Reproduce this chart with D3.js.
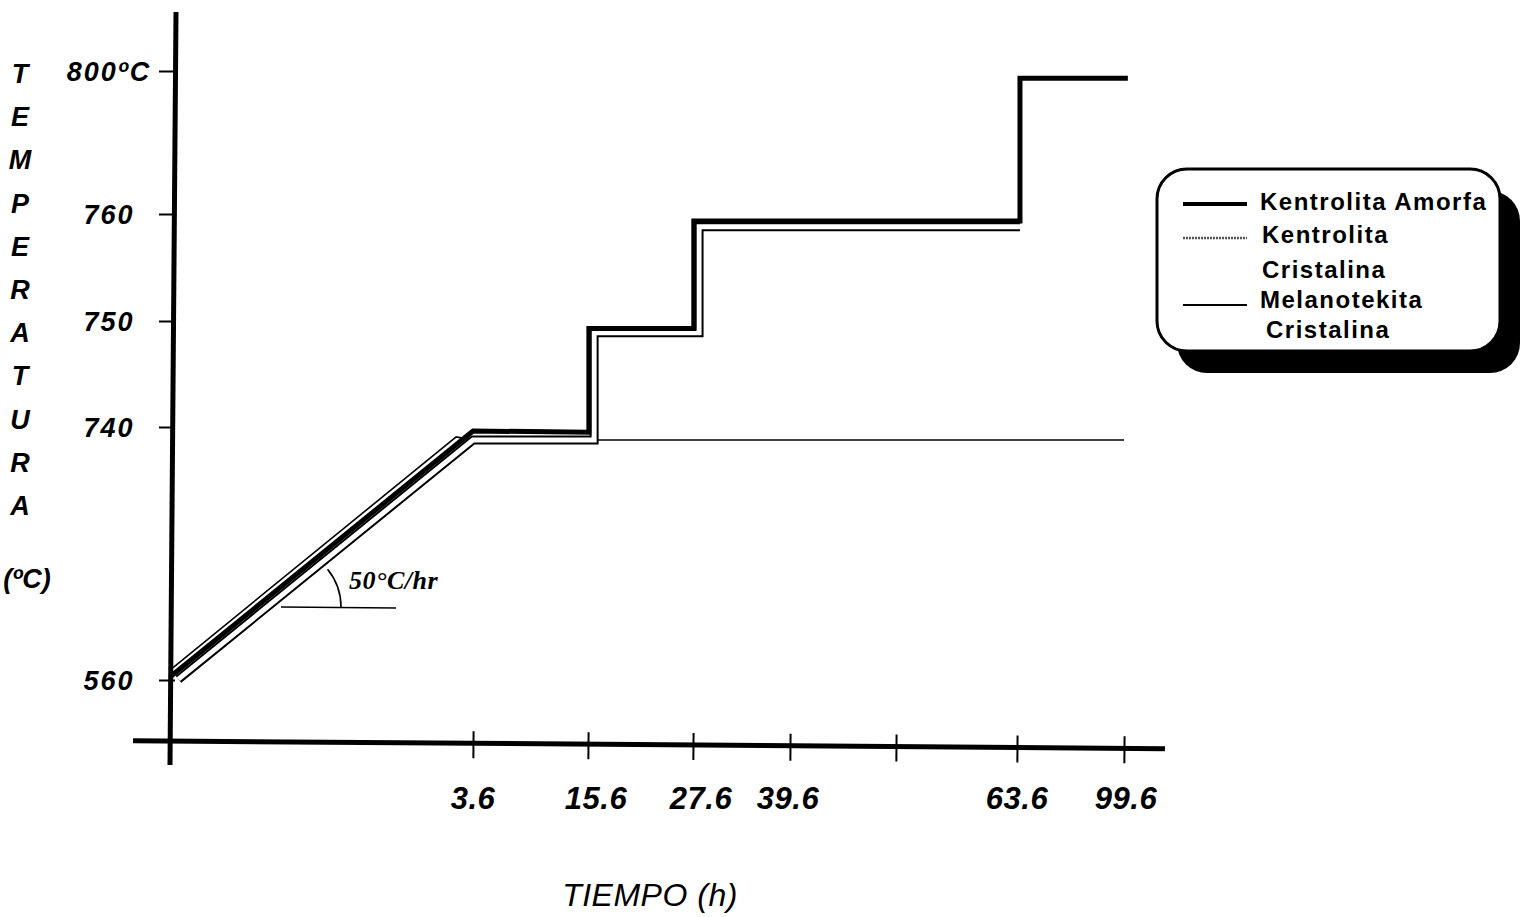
<!DOCTYPE html>
<html>
<head>
<meta charset="utf-8">
<script src="https://cdn.jsdelivr.net/npm/d3@7"></script>
<style>
  html, body { margin: 0; padding: 0; background: #fff; }
  svg { display: block; }
</style>
</head>
<body>
<svg id="chart" width="1522" height="917"></svg>
<script>
// Axis ticks (time in hours, temperature in degrees C)
const timeTicks  = [3.6, 15.6, 27.6, 39.6, 51.6, 63.6, 99.6];
const timeLabels = ["3.6", "15.6", "27.6", "39.6", "", "63.6", "99.6"];
const tempTicks  = [560, 740, 750, 760, 800];
const tempLabels = ["560", "740", "750", "760", "800ºC"];

// Heating programme of each sample: time (h) / temperature (ºC)
const amorfaTime = [0, 3.6, 15.7, 15.7, 27.7, 27.7, 64.6, 64.6, 100.9];
const amorfaTemp = [562.1, 737.2, 736.2, 749.3, 749.3, 759.35, 759.35, 798, 798];

const kentCrisTime = [0.1, 3.6, 16.3, 16.3, 28.35, 28.35, 64.6];
const kentCrisTemp = [560.6, 730.75, 730.75, 748.9, 748.9, 758.8, 758.8];

const melanoTime = [0, 3.4, 3.6, 99.6];
const melanoTemp = [567.1, 733, 730.75, 730.75];

const legendLabels = [["Kentrolita Amorfa"], ["Kentrolita", "Cristalina"], ["Melanotekita", "Cristalina"]];
const yTitle = "TEMPERATURA";
const yUnit = "(ºC)";
const xTitle = "TIEMPO (h)";
const slopeNote = "50°C/hr";

const svg = d3.select("#chart");

// Broken (piecewise) scales: the axes are not proportional
const x = d3.scaleLinear()
  .domain([0, ...timeTicks])
  .range([170, 473, 588, 693, 790, 896, 1017, 1124]);
const y = d3.scaleLinear()
  .domain(tempTicks)
  .range([680, 427, 321, 214, 71]);

const pts = (ts, vs) => ts.map((t, i) => [t, vs[i]]);
const line = d3.line().x(d => x(d[0])).y(d => y(d[1]));

const sansBI = "'Liberation Sans', Arial, sans-serif";

// ---- Y axis ----
const yAxisG = svg.append("g").attr("transform", "translate(172,0)");
yAxisG.call(d3.axisLeft(y).tickValues(tempTicks).tickFormat("").tickSizeOuter(0));
yAxisG.select(".domain").remove();
yAxisG.selectAll(".tick line").attr("x1", 3).attr("x2", -13)
  .attr("stroke", "#000").attr("stroke-width", 2);

svg.append("line")
  .attr("x1", 176).attr("y1", 12).attr("x2", 170).attr("y2", 765)
  .attr("stroke", "#000").attr("stroke-width", 5);

svg.append("g").selectAll("text")
  .data(tempTicks)
  .join("text")
  .attr("x", 109)
  .attr("y", d => y(d) + 10)
  .attr("text-anchor", "middle")
  .attr("font-family", sansBI)
  .attr("font-weight", "bold")
  .attr("font-style", "italic")
  .attr("font-size", 27)
  .attr("letter-spacing", 2)
  .text((d, i) => tempLabels[i]);

// vertical stacked title
svg.append("g").selectAll("text")
  .data(yTitle.split(""))
  .join("text")
  .attr("x", 20)
  .attr("y", (d, i) => 83 + i * 43.2)
  .attr("text-anchor", "middle")
  .attr("font-family", sansBI)
  .attr("font-weight", "bold")
  .attr("font-style", "italic")
  .attr("font-size", 27)
  .text(d => d);

svg.append("text")
  .attr("x", 27).attr("y", 588)
  .attr("text-anchor", "middle")
  .attr("font-family", sansBI)
  .attr("font-style", "italic")
  .attr("font-weight", "bold")
  .attr("font-size", 27)
  .text(yUnit);

// ---- X axis (slightly tilted baseline) ----
const xAxisG = svg.append("g").attr("transform", "rotate(0.44,170,741)")
  .append("g").attr("transform", "translate(0,741)");
xAxisG.call(d3.axisBottom(x).tickValues(timeTicks).tickFormat("").tickSizeOuter(0));
xAxisG.select(".domain").remove();
xAxisG.selectAll(".tick line").attr("y1", -12).attr("y2", 15)
  .attr("stroke", "#000").attr("stroke-width", 2);
xAxisG.append("line")
  .attr("x1", 133).attr("x2", 1165).attr("y1", 0).attr("y2", 0)
  .attr("stroke", "#000").attr("stroke-width", 5);

const labelNudge = [0, 8, 8, -2, 0, 0, 2];
svg.append("g").selectAll("text")
  .data(timeTicks)
  .join("text")
  .attr("x", (d, i) => x(d) + labelNudge[i])
  .attr("y", 809)
  .attr("text-anchor", "middle")
  .attr("font-family", "'Liberation Sans Narrow', 'Arial Narrow', " + sansBI)
  .attr("font-weight", "bold")
  .attr("font-style", "italic")
  .attr("font-size", 31)
  .attr("letter-spacing", 0.5)
  .text((d, i) => timeLabels[i]);

svg.append("text")
  .attr("x", 650).attr("y", 906)
  .attr("text-anchor", "middle")
  .attr("font-family", sansBI)
  .attr("font-style", "italic")
  .attr("font-size", 32)
  .attr("letter-spacing", 0.5)
  .text(xTitle);

// ---- Series ----
// Melanotekita Cristalina: thin line
svg.append("path")
  .attr("d", line(pts(melanoTime, melanoTemp)))
  .attr("fill", "none").attr("stroke", "#000").attr("stroke-width", 1.6);

// Kentrolita Cristalina: hollow double line
const kc = line(pts(kentCrisTime, kentCrisTemp));
svg.append("path").attr("d", kc)
  .attr("fill", "none").attr("stroke", "#000").attr("stroke-width", 9)
  .attr("stroke-linejoin", "miter");
svg.append("path").attr("d", kc)
  .attr("fill", "none").attr("stroke", "#fff").attr("stroke-width", 5)
  .attr("stroke-linejoin", "miter");

// Kentrolita Amorfa: thick line
svg.append("path")
  .attr("d", line(pts(amorfaTime, amorfaTemp)))
  .attr("fill", "none").attr("stroke", "#000").attr("stroke-width", 5)
  .attr("stroke-linejoin", "miter");

// ---- Heating-rate note ----
const ang = Math.atan2(y(amorfaTemp[0]) - y(amorfaTemp[1]), x(amorfaTime[1]) - x(amorfaTime[0]));
const cx = 281, cy = 607, r = 60;
svg.append("line")
  .attr("x1", cx).attr("y1", cy).attr("x2", 396).attr("y2", cy + 1)
  .attr("stroke", "#000").attr("stroke-width", 1.6);
svg.append("path")
  .attr("d", `M${cx + r * Math.cos(ang)},${cy - r * Math.sin(ang)} A${r},${r} 0 0 1 ${cx + r},${cy}`)
  .attr("fill", "none").attr("stroke", "#000").attr("stroke-width", 1.6);
svg.append("text")
  .attr("x", 349).attr("y", 589)
  .attr("font-family", "'Liberation Serif', 'Times New Roman', serif")
  .attr("font-weight", "bold")
  .attr("font-style", "italic")
  .attr("font-size", 26)
  .attr("letter-spacing", 0.5)
  .text(slopeNote);

// ---- Legend ----
const lg = svg.append("g");
lg.append("rect")
  .attr("x", 1177).attr("y", 191).attr("width", 343).attr("height", 182).attr("rx", 30)
  .attr("fill", "#000");
lg.append("rect")
  .attr("x", 1157).attr("y", 169).attr("width", 343).attr("height", 182).attr("rx", 30)
  .attr("fill", "#fff").attr("stroke", "#000").attr("stroke-width", 3);

const sampleY = [204, 238, 305];
const sampleStyle = [
  { w: 4, c: "#000", dash: null },
  { w: 2.5, c: "#555", dash: "2 1" },
  { w: 1.8, c: "#000", dash: null }
];
lg.selectAll("line.sample")
  .data(sampleY)
  .join("line")
  .attr("class", "sample")
  .attr("x1", 1183).attr("x2", 1247)
  .attr("y1", d => d).attr("y2", d => d)
  .attr("stroke", (d, i) => sampleStyle[i].c)
  .attr("stroke-width", (d, i) => sampleStyle[i].w)
  .attr("stroke-dasharray", (d, i) => sampleStyle[i].dash);

const textRows = [
  { t: legendLabels[0][0], x: 1260, y: 210 },
  { t: legendLabels[1][0], x: 1262, y: 243 },
  { t: legendLabels[1][1], x: 1262, y: 278 },
  { t: legendLabels[2][0], x: 1260, y: 308 },
  { t: legendLabels[2][1], x: 1266, y: 338 }
];
lg.selectAll("text")
  .data(textRows)
  .join("text")
  .attr("x", d => d.x).attr("y", d => d.y)
  .attr("font-family", sansBI)
  .attr("font-weight", "bold")
  .attr("font-size", 24)
  .attr("letter-spacing", 1.5)
  .text(d => d.t);
</script>
</body>
</html>
